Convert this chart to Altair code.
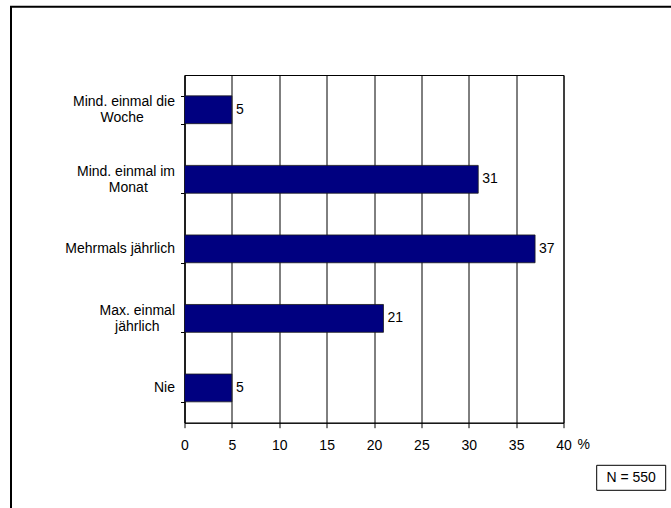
import json
import altair as alt
import pandas as pd

# Frequency categories (top to bottom) and their shares in percent
categories = [
    "Mind. einmal die Woche",
    "Mind. einmal im Monat",
    "Mehrmals jährlich",
    "Max. einmal jährlich",
    "Nie",
]
shares = [5, 31, 37, 21, 5]
x_ticks = [0, 5, 10, 15, 20, 25, 30, 35, 40]
unit_label = "%"
sample_note = "N = 550"

NBSP = "\u00a0"
WJ = "\u2060"  # word joiner keeps the trailing no-break spaces from being trimmed
# Wrapped axis labels; trailing no-break spaces centre the short second line
# under the first while the whole block stays right-aligned at the axis.
label_lines = {
    "Mind. einmal die Woche": ["Mind. einmal die", "Woche" + NBSP * 8 + WJ],
    "Mind. einmal im Monat": ["Mind. einmal im", "Monat" + NBSP * 7 + WJ],
    "Mehrmals jährlich": ["Mehrmals jährlich"],
    "Max. einmal jährlich": ["Max. einmal", "jährlich" + NBSP * 4 + WJ],
    "Nie": ["Nie"],
}

label_expr = "datum.label"
for cat, lines in reversed(list(label_lines.items())):
    arr = "[" + ", ".join(json.dumps(s, ensure_ascii=False) for s in lines) + "]"
    label_expr = f"datum.value == {json.dumps(cat, ensure_ascii=False)} ? {arr} : ({label_expr})"

two_line = [c for c, lines in label_lines.items() if len(lines) == 2]
two_line_test = (
    "indexof(["
    + ", ".join(json.dumps(c, ensure_ascii=False) for c in two_line)
    + "], datum.value) >= 0"
)

df = pd.DataFrame({"category": categories, "share": shares})

FONT = "Liberation Sans"
W, H = 379, 347.7
PAD = {"left": 184.5, "top": 75, "right": 107.5, "bottom": 85.3}

y_enc = alt.Y(
    "category:N",
    sort=categories,
    scale=alt.Scale(paddingInner=0.6, paddingOuter=0.3),
    axis=alt.Axis(
        title=None,
        labelExpr=label_expr,
        labelFont=FONT,
        labelFontSize=14,
        labelColor="black",
        labelLineHeight=16,
        labelPadding=6,
        labelLimit=300,
        labelOffset={"condition": {"test": two_line_test, "value": -8}, "value": 0},
        tickBand="extent",
        tickSize=4,
        tickColor="black",
        domainColor="black",
        grid=False,
    ),
)

x_enc = alt.X(
    "share:Q",
    scale=alt.Scale(domain=[0, 40], nice=False),
    axis=alt.Axis(
        values=x_ticks,
        title=unit_label,
        titleX=392.5,
        titleY=22,
        titleAlign="left",
        titleBaseline="middle",
        titleAngle=0,
        titleFont=FONT,
        titleFontSize=14,
        titleFontWeight="normal",
        titleColor="black",
        labelFont=FONT,
        labelFontSize=14,
        labelColor="black",
        labelPadding=11,
        labelFlush=False,
        labelOverlap=False,
        tickSize=5,
        tickColor="black",
        domainColor="black",
        grid=True,
        gridColor="black",
        gridWidth=1,
    ),
)

bars = alt.Chart(df).mark_bar(
    color="#000080", stroke="#1c1c1c", strokeWidth=0.8
).encode(x=x_enc, y=y_enc)

values = alt.Chart(df).mark_text(
    align="left", baseline="middle", dx=4, font=FONT, fontSize=14, color="black"
).encode(x="share:Q", y=alt.Y("category:N", sort=categories), text="share:Q")

note_data = alt.Data(values=[{"note": sample_note}])

note_box = alt.Chart(note_data).mark_rect(
    fill="white", stroke="black", strokeWidth=1
).encode(
    x=alt.value(412.2), x2=alt.value(481.2), y=alt.value(390.3), y2=alt.value(415.3)
)

note_text = alt.Chart(note_data).mark_text(
    align="center", baseline="middle", font=FONT, fontSize=14, color="black"
).encode(x=alt.value(446.7), y=alt.value(403), text="note:N")

frame = alt.Chart(note_data).mark_rect(
    filled=False, stroke="black", strokeWidth=2
).encode(
    x=alt.value(-173.5), x2=alt.value(700), y=alt.value(-68.3), y2=alt.value(600)
)

chart = (
    alt.layer(frame, bars, values, note_box, note_text)
    .properties(
        width=W,
        height=H,
        padding=PAD,
        autosize=alt.AutoSizeParams(type="none"),
        background="white",
    )
    .configure_view(stroke="black", strokeWidth=1)
)

chart.save("out.html", embed_options={"renderer": "svg", "actions": False})
